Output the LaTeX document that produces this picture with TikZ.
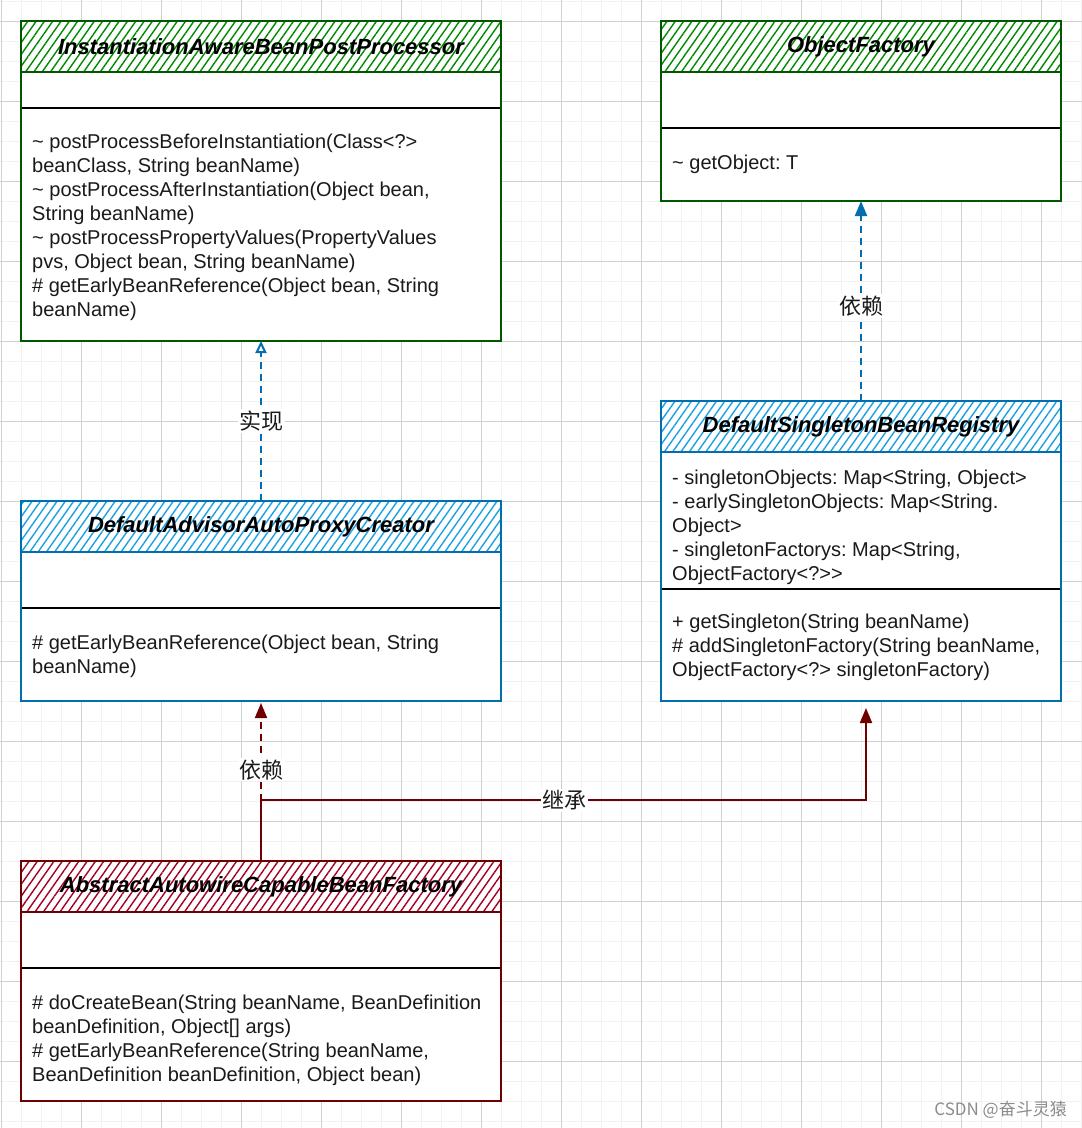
\documentclass[tikz,border=0pt]{standalone}
\usepackage{fontspec}
\setmainfont{Liberation Sans}
\newfontfamily\cjk{Noto Sans CJK SC}
\usetikzlibrary{arrows.meta,patterns.meta}
\definecolor{gstroke}{HTML}{005700}
\definecolor{gfill}{HTML}{008A00}
\definecolor{bstroke}{HTML}{006EAF}
\definecolor{bfill}{HTML}{1BA1E2}
\definecolor{rstroke}{HTML}{6F0000}
\definecolor{rfill}{HTML}{A20025}
\definecolor{minorgrid}{HTML}{F2F2F2}
\definecolor{majorgrid}{HTML}{D0D0D0}
\definecolor{txt}{HTML}{1A1A1A}
\frenchspacing
\begin{document}
\begin{tikzpicture}[x=1pt,y=-1pt,
  classbox/.style={draw=#1, line width=2pt, fill=white, rectangle, inner sep=0pt, outer sep=0pt, anchor=north west},
  classhead/.style 2 args={draw=#1, line width=2pt, rectangle, inner sep=0pt, outer sep=0pt, anchor=north west,
     pattern={Lines[angle=55,distance=6.8pt,line width=1.4pt]}, pattern color=#2,
     minimum height=51pt, font=\fontsize{22}{26}\selectfont\bfseries\itshape, text=black},
  divider/.style={draw=black, line width=2pt},
  mline/.style={anchor=base west, inner sep=0pt, font=\fontsize{20}{24}\selectfont, text=txt},
  lbl/.style={fill=white, inner sep=1.5pt, font=\cjk\fontsize{22}{26}\selectfont, text=txt},
  depblue/.style={draw=bstroke, line width=2pt, dash pattern=on 7pt off 5pt},
  depred/.style={draw=rstroke, line width=2pt, dash pattern=on 7pt off 5pt},
  inh/.style={draw=rstroke, line width=2pt}
]
\useasboundingbox (0,0) rectangle (1082,1128);
\fill[white] (0,0) rectangle (1082,1128);
% grid
\foreach \i in {0,...,54} \draw[minorgrid, line width=1.5pt] ({1.7+20*\i},0) -- ({1.7+20*\i},1128);
\foreach \j in {0,...,56} \draw[minorgrid, line width=1.5pt] (0,{1.7+20*\j}) -- (1082,{1.7+20*\j});
\foreach \i in {0,...,13} \draw[majorgrid, line width=1pt] ({1.7+80*\i},0) -- ({1.7+80*\i},1128);
\foreach \j in {0,...,13} \draw[majorgrid, line width=1pt] (0,{21.7+80*\j}) -- (1082,{21.7+80*\j});

% ---- InstantiationAwareBeanPostProcessor
\node[classbox=gstroke, minimum width=480pt, minimum height=320pt] (inst) at (21,21) {};
\node[classhead={gstroke}{gfill}, minimum width=480pt] (instH) at (21,21) {InstantiationAwareBeanPostProcessor};
\draw[divider] (22,108) -- (500,108);
\node[mline] (inst1) at (32,148) {\textasciitilde{} postProcessBeforeInstantiation(Class<?>};
\node[mline] (inst2) at (32,172) {beanClass, String beanName)};
\node[mline] (inst3) at (32,196) {\textasciitilde{} postProcessAfterInstantiation(Object bean,};
\node[mline] (inst4) at (32,220) {String beanName)};
\node[mline] (inst5) at (32,244) {\textasciitilde{} postProcessPropertyValues(PropertyValues};
\node[mline] (inst6) at (32,268) {pvs, Object bean, String beanName)};
\node[mline] (inst7) at (32,292) {\# getEarlyBeanReference(Object bean, String};
\node[mline] (inst8) at (32,316) {beanName)};

% ---- ObjectFactory
\node[classbox=gstroke, minimum width=400pt, minimum height=180pt] (of) at (661,21) {};
\node[classhead={gstroke}{gfill}, minimum width=400pt] (ofH) at (661,21) {ObjectFactory};
\draw[divider] (662,128) -- (1060,128);
\node[mline] (of1) at (672,169) {\textasciitilde{} getObject: T};

% ---- DefaultSingletonBeanRegistry
\node[classbox=bstroke, minimum width=400pt, minimum height=300pt] (dsbr) at (661,401) {};
\node[classhead={bstroke}{bfill}, minimum width=400pt] (dsbrH) at (661,401) {DefaultSingletonBeanRegistry};
\draw[divider] (662,589) -- (1060,589);
\node[mline] (dsbr1) at (672,484) {- singletonObjects: Map<String, Object>};
\node[mline] (dsbr2) at (672,508) {- earlySingletonObjects: Map<String.};
\node[mline] (dsbr3) at (672,532) {Object>};
\node[mline] (dsbr4) at (672,556) {- singletonFactorys: Map<String,};
\node[mline] (dsbr5) at (672,580) {ObjectFactory<?>{}>};
\node[mline] (dsbr6) at (672,628) {+ getSingleton(String beanName)};
\node[mline] (dsbr7) at (672,652) {\# addSingletonFactory(String beanName,};
\node[mline] (dsbr8) at (672,676) {ObjectFactory<?> singletonFactory)};

% ---- DefaultAdvisorAutoProxyCreator
\node[classbox=bstroke, minimum width=480pt, minimum height=200pt] (daapc) at (21,501) {};
\node[classhead={bstroke}{bfill}, minimum width=480pt] (daapcH) at (21,501) {DefaultAdvisorAutoProxyCreator};
\draw[divider] (22,608) -- (500,608);
\node[mline] (daapc1) at (32,649) {\# getEarlyBeanReference(Object bean, String};
\node[mline] (daapc2) at (32,673) {beanName)};

% ---- AbstractAutowireCapableBeanFactory
\node[classbox=rstroke, minimum width=480pt, minimum height=240pt] (aacbf) at (21,861) {};
\node[classhead={rstroke}{rfill}, minimum width=480pt] (aacbfH) at (21,861) {AbstractAutowireCapableBeanFactory};
\draw[divider] (22,968) -- (500,968);
\node[mline] (aacbf1) at (32,1009) {\# doCreateBean(String beanName, BeanDefinition};
\node[mline] (aacbf2) at (32,1033) {beanDefinition, Object[] args)};
\node[mline] (aacbf3) at (32,1057) {\# getEarlyBeanReference(String beanName,};
\node[mline] (aacbf4) at (32,1081) {BeanDefinition beanDefinition, Object bean)};

% ---- connectors
\draw[depblue, -{Triangle[open, width=11pt, length=12pt, line width=2pt]}] (daapcH.north) -- (inst.south) node[lbl, pos=0.5] (lblImpl) {实现};
\draw[depblue, -{Triangle[width=12pt, length=15pt]}] (dsbrH.north) -- (of.south) node[lbl, pos=0.475] (lblDep1) {依赖};
\draw[depred, shorten >=2pt, -{Triangle[width=12pt, length=15pt]}] (aacbfH.north) -- (daapc.south) node[lbl, pos=0.57] (lblDep2) {依赖};
\coordinate (bendA) at (261,800);
\coordinate (bendB) at (866,800);
\draw[inh, -{Triangle[width=12pt, length=15pt]}] (aacbfH.north) -- (bendA) -- node[lbl, pos=0.502] (lblInh) {继承} (bendB) -- ([xshift=5pt, yshift=-7pt]dsbr.south);

% watermark
\node[anchor=east, inner sep=0pt, font=\cjk\fontsize{17}{19}\selectfont, text=black!45] (wm) at (1067,1110) {CSDN @奋斗灵猿};
\end{tikzpicture}
\end{document}
